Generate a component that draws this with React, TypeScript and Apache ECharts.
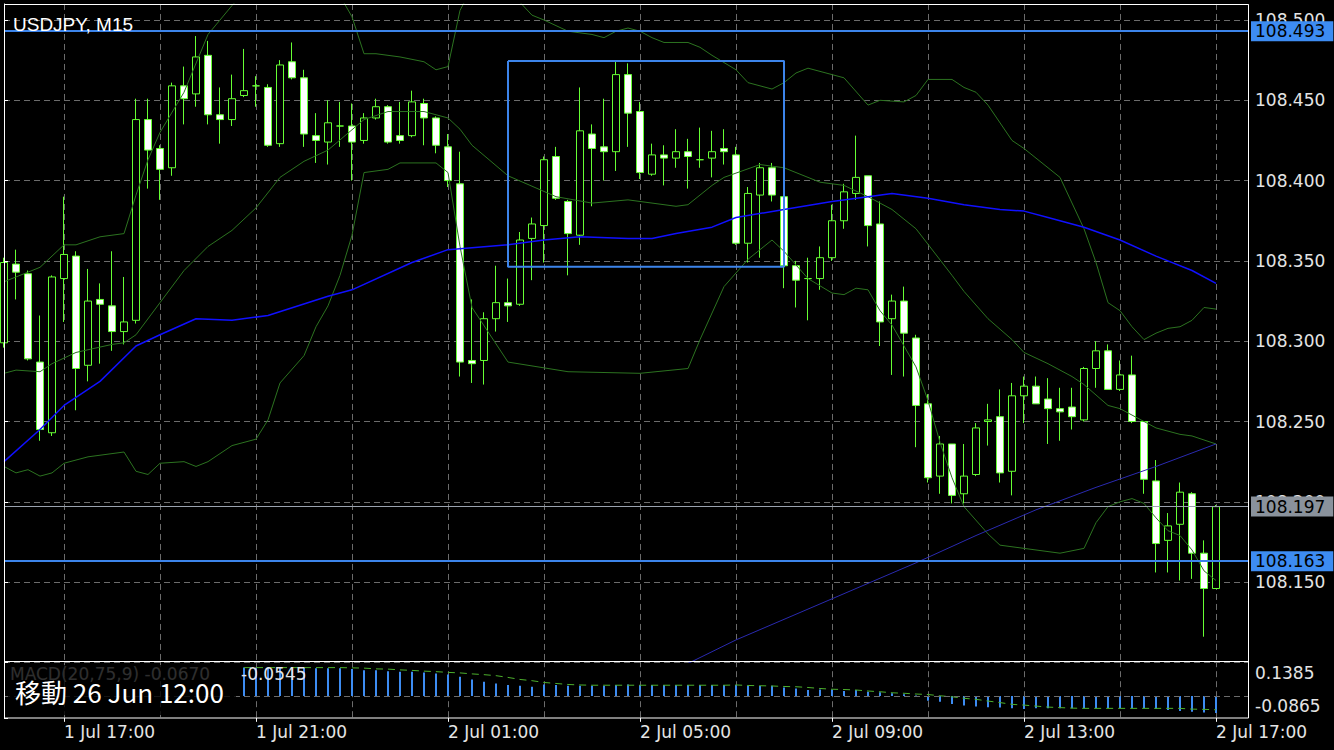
import React, { useEffect, useRef } from 'react';
import * as echarts from 'echarts';

// ---- Candles (M15 bars, bar 0 = 1 Jul 15:45) ----
const OPEN = [
  108.299, 108.348, 108.342, 108.287, 108.243, 108.339, 108.353, 108.285, 108.326, 108.322,
  108.306, 108.313, 108.438, 108.420, 108.408, 108.459, 108.454, 108.478, 108.441, 108.438,
  108.453, 108.459, 108.458, 108.423, 108.474, 108.464, 108.428, 108.424, 108.434, 108.434,
  108.425, 108.439, 108.446, 108.428, 108.428, 108.448, 108.439, 108.421, 108.398, 108.288,
  108.288, 108.314, 108.324, 108.323, 108.364, 108.372, 108.415, 108.387, 108.366, 108.429,
  108.421, 108.418, 108.466, 108.443, 108.404, 108.416, 108.414, 108.418, 108.413, 108.414,
  108.420, 108.416, 108.361, 108.391, 108.408, 108.390, 108.347, 108.339, 108.339, 108.352,
  108.375, 108.392, 108.403, 108.373, 108.314, 108.325, 108.302, 108.261, 108.216, 108.236,
  108.205, 108.217, 108.250, 108.253, 108.219, 108.266, 108.272, 108.264, 108.258, 108.259,
  108.251, 108.283, 108.294, 108.270, 108.279, 108.250, 108.213, 108.176, 108.186, 108.205,
  108.168, 108.146,
];
const HIGH = [
  108.352, 108.357, 108.344, 108.316, 108.341, 108.390, 108.356, 108.345, 108.336, 108.356,
  108.340, 108.451, 108.451, 108.422, 108.461, 108.471, 108.490, 108.487, 108.458, 108.466,
  108.482, 108.465, 108.460, 108.475, 108.486, 108.469, 108.442, 108.450, 108.449, 108.448,
  108.442, 108.451, 108.447, 108.449, 108.456, 108.451, 108.440, 108.429, 108.418, 108.326,
  108.318, 108.347, 108.339, 108.368, 108.377, 108.415, 108.421, 108.388, 108.458, 108.435,
  108.451, 108.474, 108.473, 108.449, 108.423, 108.422, 108.432, 108.426, 108.433, 108.431,
  108.432, 108.421, 108.396, 108.411, 108.411, 108.390, 108.350, 108.352, 108.359, 108.385,
  108.398, 108.428, 108.403, 108.387, 108.329, 108.334, 108.304, 108.267, 108.241, 108.236,
  108.236, 108.249, 108.261, 108.270, 108.274, 108.278, 108.278, 108.277, 108.271, 108.271,
  108.284, 108.300, 108.298, 108.288, 108.291, 108.250, 108.226, 108.193, 108.212, 108.206,
  108.176, 108.198,
];
const LOW = [
  108.296, 108.326, 108.288, 108.238, 108.241, 108.312, 108.257, 108.275, 108.286, 108.294,
  108.298, 108.311, 108.395, 108.388, 108.403, 108.435, 108.446, 108.435, 108.423, 108.434,
  108.452, 108.446, 108.421, 108.421, 108.463, 108.421, 108.411, 108.410, 108.421, 108.400,
  108.423, 108.438, 108.423, 108.423, 108.427, 108.422, 108.417, 108.396, 108.278, 108.274,
  108.273, 108.306, 108.312, 108.322, 108.338, 108.349, 108.388, 108.341, 108.360, 108.384,
  108.400, 108.406, 108.421, 108.401, 108.403, 108.397, 108.408, 108.395, 108.408, 108.402,
  108.410, 108.360, 108.349, 108.352, 108.387, 108.333, 108.321, 108.313, 108.332, 108.350,
  108.370, 108.388, 108.359, 108.297, 108.279, 108.278, 108.234, 108.212, 108.205, 108.199,
  108.199, 108.216, 108.235, 108.212, 108.204, 108.249, 108.261, 108.236, 108.238, 108.245,
  108.250, 108.271, 108.270, 108.269, 108.249, 108.205, 108.156, 108.156, 108.151, 108.152,
  108.116, 108.146,
];
const CLOSE = [
  108.349, 108.343, 108.289, 108.245, 108.340, 108.354, 108.283, 108.325, 108.323, 108.306,
  108.312, 108.438, 108.419, 108.407, 108.459, 108.451, 108.477, 108.441, 108.438, 108.451,
  108.456, 108.459, 108.422, 108.472, 108.464, 108.429, 108.425, 108.436, 108.434, 108.424,
  108.439, 108.446, 108.424, 108.425, 108.449, 108.439, 108.422, 108.400, 108.287, 108.286,
  108.314, 108.324, 108.322, 108.363, 108.373, 108.413, 108.389, 108.367, 108.431, 108.420,
  108.418, 108.466, 108.442, 108.405, 108.416, 108.414, 108.418, 108.415, 108.413, 108.418,
  108.418, 108.361, 108.392, 108.408, 108.391, 108.347, 108.338, 108.339, 108.352, 108.375,
  108.393, 108.402, 108.372, 108.312, 108.325, 108.305, 108.260, 108.215, 108.236, 108.204,
  108.216, 108.246, 108.251, 108.218, 108.266, 108.272, 108.261, 108.258, 108.256, 108.253,
  108.283, 108.294, 108.270, 108.279, 108.250, 108.214, 108.174, 108.185, 108.206, 108.168,
  108.146, 108.197,
];

// ---- Indicators: [bar, price] readings ----
const MA_LINE = [
  [0, 108.225], [3, 108.245], [5, 108.260], [8, 108.275], [11, 108.297], [13, 108.304], [16, 108.314],
  [19, 108.313], [22, 108.316], [27, 108.328], [29, 108.332], [34, 108.349], [37, 108.357], [42, 108.360],
  [45, 108.363], [48, 108.365], [52, 108.364], [54, 108.364], [56, 108.367], [59, 108.371], [61, 108.377],
  [65, 108.382], [69, 108.387], [72, 108.390], [74, 108.392], [77, 108.389], [80, 108.385], [83, 108.382],
  [85, 108.381], [87, 108.377], [90, 108.371], [93, 108.363], [96, 108.353], [99, 108.344], [101, 108.336],
];
const BB_UPPER = [
  [0, 108.337], [3, 108.346], [5, 108.360], [6, 108.360], [8, 108.365], [10, 108.367], [11, 108.391],
  [12, 108.413], [13, 108.430], [15, 108.455], [17, 108.491], [19, 108.509], [21, 108.525], [24, 108.535],
  [27, 108.525], [28, 108.515], [29, 108.502], [30, 108.479], [31, 108.479], [33, 108.477], [35, 108.474],
  [36, 108.469], [37, 108.471], [38, 108.506], [39, 108.520], [41, 108.525], [42, 108.518], [43, 108.511],
  [44, 108.503], [45, 108.500], [47, 108.493], [49, 108.491], [50, 108.489], [51, 108.493], [52, 108.495],
  [53, 108.493], [54, 108.489], [55, 108.486], [57, 108.486], [58, 108.483], [59, 108.478], [61, 108.469],
  [62, 108.461], [64, 108.457], [65, 108.461], [66, 108.467], [67, 108.470], [69, 108.466], [70, 108.464],
  [72, 108.447], [73, 108.450], [75, 108.449], [76, 108.453], [77, 108.463], [79, 108.463], [80, 108.458],
  [81, 108.455], [82, 108.447], [84, 108.425], [85, 108.420], [86, 108.414], [88, 108.402], [90, 108.370],
  [91, 108.349], [92, 108.324], [93, 108.319], [94, 108.309], [95, 108.301], [96, 108.305], [97, 108.308],
  [98, 108.309], [99, 108.313], [100, 108.321], [101, 108.320],
];
const BB_MIDDLE = [
  [0, 108.280], [1, 108.282], [3, 108.281], [4, 108.286], [6, 108.293], [9, 108.298], [10, 108.299],
  [11, 108.304], [13, 108.324], [15, 108.344], [17, 108.359], [19, 108.369], [21, 108.383], [23, 108.402],
  [25, 108.412], [27, 108.419], [30, 108.438], [32, 108.443], [35, 108.443], [36, 108.441], [37, 108.439],
  [38, 108.432], [39, 108.422], [42, 108.403], [46, 108.390], [49, 108.386], [52, 108.388], [56, 108.384],
  [57, 108.385], [59, 108.397], [60, 108.402], [63, 108.410], [65, 108.408], [68, 108.399], [70, 108.397],
  [72, 108.390], [74, 108.382], [76, 108.370], [79, 108.341], [80, 108.331], [82, 108.314], [84, 108.301],
  [85, 108.293], [87, 108.286], [89, 108.278], [90, 108.273], [92, 108.260], [93, 108.258], [95, 108.250],
  [96, 108.246], [98, 108.242], [99, 108.241], [101, 108.236],
];
const BB_LOWER = [
  [0, 108.222], [1, 108.218], [2, 108.220], [3, 108.216], [4, 108.218], [5, 108.224], [7, 108.228],
  [9, 108.230], [10, 108.231], [11, 108.219], [12, 108.217], [13, 108.224], [15, 108.225], [16, 108.222],
  [17, 108.225], [19, 108.235], [21, 108.239], [22, 108.251], [23, 108.274], [25, 108.291], [26, 108.309],
  [27, 108.322], [28, 108.341], [29, 108.366], [30, 108.405], [32, 108.407], [33, 108.411], [36, 108.411],
  [37, 108.405], [38, 108.359], [39, 108.321], [42, 108.287], [47, 108.281], [53, 108.280], [57, 108.283],
  [58, 108.301], [60, 108.334], [62, 108.351], [64, 108.363], [65, 108.356], [67, 108.339], [69, 108.330],
  [70, 108.329], [71, 108.333], [72, 108.332], [73, 108.319], [74, 108.310], [76, 108.284], [77, 108.263],
  [78, 108.237], [79, 108.215], [80, 108.197], [82, 108.180], [83, 108.173], [85, 108.171], [87, 108.169],
  [88, 108.168], [90, 108.171], [91, 108.187], [92, 108.197], [93, 108.200], [94, 108.202], [95, 108.199],
  [96, 108.190], [97, 108.182], [98, 108.179], [99, 108.170], [100, 108.157], [101, 108.151],
];
const SLOW_LINE = [
  [55, 108.092], [61, 108.114], [66, 108.130], [71, 108.146], [76, 108.162], [81, 108.179],
  [86, 108.195], [91, 108.209], [96, 108.222], [101, 108.236],
];

// ---- Drawn objects ----
const H_LINES = [108.493, 108.163];
const BID_PRICE = 108.197;
const BOX_BARS = [42, 65];
const BOX_PRICES = [108.4745, 108.3463];

// ---- MACD(20,75,9), bars 20..101 ----
const MACD_FIRST_BAR = 20;
const MACD_HIST = [
  0.113, 0.113, 0.113, 0.113, 0.113, 0.113, 0.110, 0.110, 0.110, 0.107,
  0.103, 0.103, 0.099, 0.097, 0.097, 0.094, 0.090, 0.086, 0.077, 0.066,
  0.057, 0.050, 0.044, 0.041, 0.037, 0.046, 0.044, 0.041, 0.041, 0.041,
  0.041, 0.044, 0.046, 0.044, 0.044, 0.044, 0.044, 0.044, 0.044, 0.044,
  0.044, 0.044, 0.041, 0.040, 0.041, 0.034, 0.030, 0.024, 0.026, 0.026,
  0.020, 0.024, 0.017, 0.015, 0.011, 0.007, 0.002, -0.019, -0.023, -0.032,
  -0.038, -0.042, -0.045, -0.046, -0.049, -0.052, -0.049, -0.049, -0.049, -0.049,
  -0.049, -0.049, -0.049, -0.049, -0.049, -0.049, -0.052, -0.055, -0.059, -0.062,
  -0.065, -0.067,
];
const MACD_SIGNAL = [
  0.113, 0.113, 0.113, 0.113, 0.113, 0.113, 0.113, 0.113, 0.113, 0.112,
  0.111, 0.108, 0.107, 0.104, 0.102, 0.099, 0.097, 0.094, 0.092, 0.088,
  0.085, 0.081, 0.074, 0.066, 0.061, 0.054, 0.050, 0.046, 0.044, 0.043,
  0.043, 0.043, 0.043, 0.043, 0.043, 0.043, 0.043, 0.043, 0.043, 0.043,
  0.043, 0.044, 0.042, 0.041, 0.040, 0.038, 0.037, 0.034, 0.030, 0.027,
  0.026, 0.024, 0.020, 0.017, 0.013, 0.011, 0.008, 0.006, 0.001, -0.003,
  -0.009, -0.013, -0.020, -0.026, -0.033, -0.036, -0.040, -0.044, -0.046, -0.048,
  -0.049, -0.049, -0.049, -0.049, -0.049, -0.049, -0.049, -0.049, -0.049, -0.052,
  -0.053, -0.0545,
];
const MACD_RANGE = [-0.0865, 0.1385];

// ---- Time axis ----
const GRID_BARS = [5, 13, 21, 29, 37, 45, 53, 61, 69, 77, 85, 93, 101];
const TIME_TICK_BARS = [5, 21, 37, 53, 69, 85, 101];
const TIME_TICK_LABELS = ['1 Jul 17:00', '1 Jul 21:00', '2 Jul 01:00', '2 Jul 05:00', '2 Jul 09:00', '2 Jul 13:00', '2 Jul 17:00'];

const LIME = '#66ff33';
const BLUE = '#3c84ea';
const BLUE_BOX = '#3d8cf2';
const BB_GREEN = '#2c7320';
const GRID_COLOR = '#6c6c6c';
const TXT = '#e4e4e4';
const FONT = "'DejaVu Sans', sans-serif";
const FS = 17;

const X_MIN = 0;
const X_MAX = 103.75;

function buildOption() {
  const gridSplit = { show: true, lineStyle: { color: GRID_COLOR, type: [6, 4], width: 1 } };
  const candles = OPEN.map((o, i) => [i, o, CLOSE[i], LOW[i], HIGH[i]]);
  const boxData = [
    [BOX_BARS[0], BOX_PRICES[0]], [BOX_BARS[1], BOX_PRICES[0]], [BOX_BARS[1], BOX_PRICES[1]],
    [BOX_BARS[0], BOX_PRICES[1]], [BOX_BARS[0], BOX_PRICES[0]],
  ];
  const lineSeries = (data: number[][], color: string, width: number, z = 4) => ({
    type: 'line', xAxisIndex: 0, yAxisIndex: 0, data, showSymbol: false, symbol: 'none',
    lineStyle: { color, width }, z, silent: true, clip: true,
  });
  const markLabel = (v: number, bg: string) => ({
    show: true, position: 'end', distance: 2, formatter: v.toFixed(3), backgroundColor: bg,
    color: '#000', padding: [2, 8, 1, 4], fontSize: FS, fontFamily: FONT,
  });
  const splitAxis = (gridIndex: number, position: string) => ({
    type: 'value', gridIndex, position, min: X_MIN, max: X_MAX,
    axisLine: { show: false },
    axisTick: { show: false, customValues: GRID_BARS },
    axisLabel: { show: false, customValues: GRID_BARS },
    splitLine: gridSplit,
  });

  return {
    animation: false,
    backgroundColor: '#000',
    title: {
      text: 'USDJPY, M15', left: 8, top: 10,
      textStyle: { color: '#fff', fontSize: 19, fontWeight: 'normal', fontFamily: "'Liberation Sans', Arial, sans-serif" },
    },
    grid: [
      { left: 4, right: 85, top: 3.94, height: 658.46 },
      { left: 4, right: 85, top: 661.2, height: 56.6 },
    ],
    xAxis: [
      splitAxis(0, 'bottom'),
      splitAxis(1, 'top'),
      {
        type: 'value', gridIndex: 1, position: 'bottom', min: X_MIN, max: X_MAX,
        axisLine: { show: false },
        axisTick: { show: true, customValues: TIME_TICK_BARS, length: 4, lineStyle: { color: '#fff' } },
        axisLabel: {
          customValues: TIME_TICK_BARS, align: 'left', margin: 6, color: TXT, fontSize: FS, fontFamily: FONT,
          formatter: (v: number) => { const k = TIME_TICK_BARS.indexOf(Math.round(v)); return k >= 0 ? TIME_TICK_LABELS[k] : ''; },
        },
        splitLine: { show: false },
      },
    ],
    yAxis: [
      {
        type: 'value', gridIndex: 0, position: 'right', min: 108.1, max: 108.51, interval: 0.05,
        axisLine: { show: true, lineStyle: { color: '#fff' } },
        axisTick: { show: true, length: 4, lineStyle: { color: '#fff' } },
        axisLabel: {
          margin: 6, color: TXT, fontSize: FS, fontFamily: FONT,
          formatter: (v: number) => { const k = v * 20; if (Math.abs(k - Math.round(k)) > 1e-6 || v < 108.12) return ''; return v.toFixed(3); },
        },
        splitLine: gridSplit,
      },
      {
        type: 'value', gridIndex: 1, position: 'right', min: MACD_RANGE[0], max: MACD_RANGE[1], interval: MACD_RANGE[1] - MACD_RANGE[0],
        axisLine: { show: true, lineStyle: { color: '#fff' } },
        axisTick: { show: true, length: 4, lineStyle: { color: '#fff' } },
        axisLabel: {
          margin: 6, color: TXT, fontSize: FS, fontFamily: FONT,
          formatter: (v: number) => (v > 0 ? '{t|' + MACD_RANGE[1].toFixed(4) + '}' : '{b|' + MACD_RANGE[0].toFixed(4) + '}'),
          rich: {
            t: { padding: [24, 0, 0, 0], color: TXT, fontSize: FS, fontFamily: FONT },
            b: { padding: [0, 0, 24, 0], color: TXT, fontSize: FS, fontFamily: FONT },
          },
        },
        splitLine: { show: false },
      },
    ],
    series: [
      {
        type: 'candlestick', xAxisIndex: 0, yAxisIndex: 0, data: candles, encode: { x: 0, y: [1, 2, 3, 4] },
        barWidth: 7, z: 3, silent: true,
        itemStyle: { color: '#000', color0: '#fff', borderColor: LIME, borderColor0: LIME, borderWidth: 1 },
        markLine: {
          symbol: ['none', 'none'], silent: true, animation: false, precision: 4,
          data: [
            ...H_LINES.map((v) => ({ yAxis: v, lineStyle: { color: BLUE, width: 2, type: 'solid' }, label: markLabel(v, BLUE_BOX) })),
            { yAxis: BID_PRICE, lineStyle: { color: '#9aa2ae', width: 1, type: 'solid' }, label: markLabel(BID_PRICE, '#8a929c') },
          ],
        },
      },
      lineSeries(BB_UPPER, BB_GREEN, 1),
      lineSeries(BB_MIDDLE, BB_GREEN, 1),
      lineSeries(BB_LOWER, BB_GREEN, 1),
      lineSeries(MA_LINE, '#1010ff', 1.5),
      lineSeries(SLOW_LINE, '#2a2ab0', 1),
      lineSeries(boxData, BLUE, 2, 5),
      {
        type: 'bar', xAxisIndex: 1, yAxisIndex: 1, barWidth: 2, silent: true,
        data: MACD_HIST.map((v, k) => [k + MACD_FIRST_BAR, v]),
        itemStyle: { color: BLUE_BOX },
        markLine: {
          symbol: ['none', 'none'], silent: true, label: { show: false }, precision: 4,
          data: [{ yAxis: 0 }], lineStyle: { color: GRID_COLOR, type: [6, 4], width: 1 },
        },
      },
      {
        type: 'line', xAxisIndex: 1, yAxisIndex: 1, showSymbol: false, symbol: 'none', silent: true,
        data: MACD_SIGNAL.map((v, k) => [k + MACD_FIRST_BAR, v]),
        lineStyle: { color: '#4caf2c', width: 1, type: [7, 5] }, z: 4,
      },
    ],
    graphic: [
      { type: 'rect', shape: { x: 4.5, y: 4.5, width: 1244, height: 713.5 }, style: { fill: 'none', stroke: '#fff', lineWidth: 1 }, z: 100, silent: true },
      { type: 'line', shape: { x1: 4, y1: 661.5, x2: 1249, y2: 661.5 }, style: { stroke: '#fff', lineWidth: 1 }, z: 100, silent: true },
      {
        type: 'text', x: 10, y: 674, z: 100, silent: true,
        style: { text: 'MACD(20,75,9) ' + MACD_HIST[MACD_HIST.length - 1].toFixed(4), fill: TXT, fontSize: FS, fontFamily: FONT, verticalAlign: 'middle' },
      },
      { type: 'rect', shape: { x: 8, y: 665, width: 228, height: 50 }, style: { fill: 'rgba(0,0,0,0.8)' }, z: 101, silent: true },
      {
        type: 'text', x: 241, y: 674, z: 102, silent: true,
        style: { text: MACD_SIGNAL[MACD_SIGNAL.length - 1].toFixed(4), fill: TXT, fontSize: FS, fontFamily: FONT, verticalAlign: 'middle' },
      },
      {
        type: 'text', x: 15, y: 691, z: 102, silent: true,
        style: { text: '移動 26 Jun 12:00', fill: '#fff', fontSize: 26, fontFamily: "'Noto Sans CJK JP', sans-serif", verticalAlign: 'middle' },
      },
    ],
  };
}

export default function App() {
  const ref = useRef<HTMLDivElement>(null);
  useEffect(() => {
    document.body.style.margin = '0';
    document.body.style.background = '#000';
    const chart = echarts.init(ref.current as HTMLDivElement, undefined, { renderer: 'svg' });
    chart.setOption(buildOption() as any);
    return () => chart.dispose();
  }, []);
  return <div ref={ref} style={{ width: 1334, height: 750, background: '#000' }} />;
}
